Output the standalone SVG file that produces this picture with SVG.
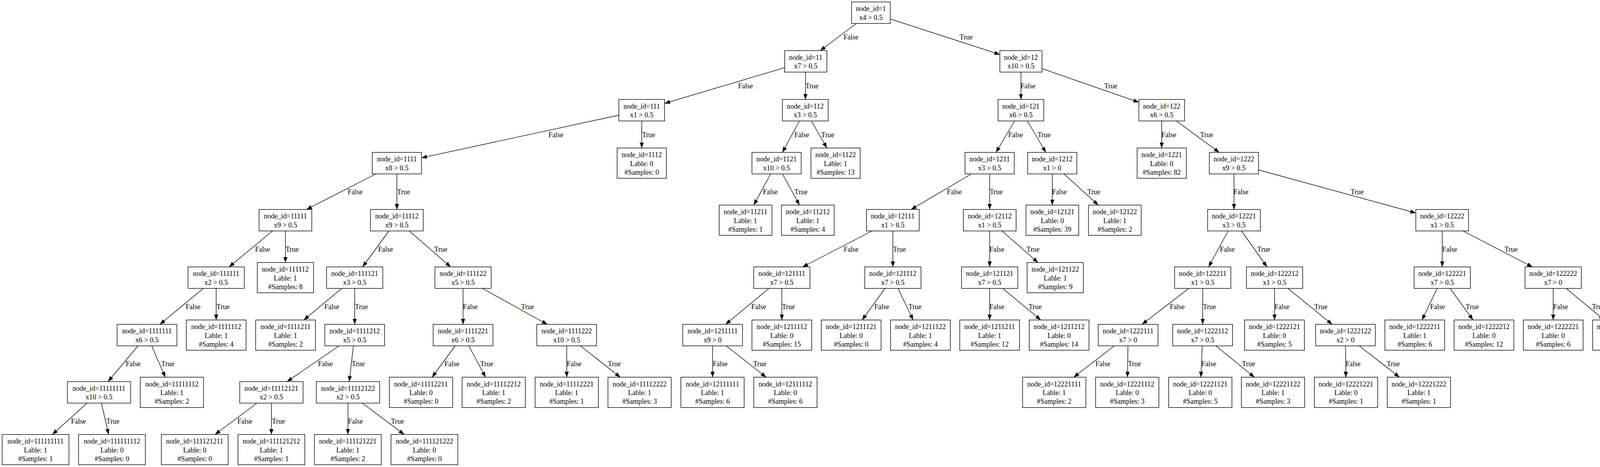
<svg xmlns="http://www.w3.org/2000/svg" width="4236" height="1195" viewBox="0 0 4236 1195">
<style>
.n rect{fill:#fff;stroke:#000;stroke-width:1.4}
text{font-family:"Liberation Serif","Times New Roman",serif;font-size:18px;fill:#000;text-anchor:middle}
.e line{stroke:#000;stroke-width:1.4;marker-end:url(#ah)}
</style>
<defs>
<marker id="ah" markerUnits="userSpaceOnUse" markerWidth="14" markerHeight="11" viewBox="0 0 14 11" refX="14" refY="5.5" orient="auto"><path d="M0,0.2 L14,5.5 L0,10.8 z" fill="#000"/></marker>
</defs>
<rect width="4236" height="1195" fill="#fff"/>
<g id="connectors" class="e">
<line x1="2192.6" y1="60" x2="2099.6" y2="129.5"/>
<line x1="2279.5" y1="48.7" x2="2559.6" y2="139.5"/>
<line x1="2008.7" y1="173.1" x2="1701.3" y2="264.6"/>
<line x1="2062.5" y1="184.5" x2="2061.8" y2="254.5"/>
<line x1="2613.6" y1="184.5" x2="2613.6" y2="254.5"/>
<line x1="2667.6" y1="175.7" x2="2915.5" y2="261.7"/>
<line x1="1584.3" y1="294.7" x2="1079" y2="403.9"/>
<line x1="1642.8" y1="309.5" x2="1642.8" y2="378.75"/>
<line x1="2046.6" y1="309.5" x2="2002.9" y2="390"/>
<line x1="2077.2" y1="309.5" x2="2116.8" y2="378.75"/>
<line x1="2597.3" y1="309.5" x2="2549.8" y2="390"/>
<line x1="2629.9" y1="309.5" x2="2677.4" y2="390"/>
<line x1="2974" y1="309.5" x2="2974" y2="378.75"/>
<line x1="3011.5" y1="309.5" x2="3121.3" y2="390"/>
<line x1="962.3" y1="445" x2="784.5" y2="536"/>
<line x1="1016" y1="445" x2="1016" y2="536"/>
<line x1="1973" y1="445" x2="1929.7" y2="524.75"/>
<line x1="2003.1" y1="445" x2="2046.8" y2="524.75"/>
<line x1="2486.8" y1="445" x2="2332.4" y2="536"/>
<line x1="2533.6" y1="445" x2="2533.6" y2="536"/>
<line x1="2693.8" y1="445" x2="2693.8" y2="524.75"/>
<line x1="2723.9" y1="445" x2="2811.5" y2="524.75"/>
<line x1="3158.9" y1="445" x2="3158.9" y2="536"/>
<line x1="3221.8" y1="434.8" x2="3624.5" y2="545"/>
<line x1="697.6" y1="591" x2="586.6" y2="683"/>
<line x1="730.7" y1="591" x2="730.7" y2="671.75"/>
<line x1="995.8" y1="591" x2="928.2" y2="683"/>
<line x1="1047.7" y1="591" x2="1153.7" y2="683"/>
<line x1="2232.5" y1="591" x2="2054.7" y2="683"/>
<line x1="2285.7" y1="591" x2="2285.7" y2="683"/>
<line x1="2533.6" y1="591" x2="2533.6" y2="683"/>
<line x1="2565.2" y1="591" x2="2657.2" y2="671.75"/>
<line x1="3144" y1="591" x2="3094" y2="683"/>
<line x1="3178.4" y1="591" x2="3243.5" y2="683"/>
<line x1="3692.1" y1="591" x2="3692.1" y2="683"/>
<line x1="3745.2" y1="591" x2="3923" y2="683"/>
<line x1="520.3" y1="738" x2="409.4" y2="830"/>
<line x1="553.4" y1="738" x2="553.4" y2="818.75"/>
<line x1="874.9" y1="738" x2="777.7" y2="818.75"/>
<line x1="908" y1="738" x2="908" y2="830"/>
<line x1="1185.4" y1="738" x2="1185.4" y2="830"/>
<line x1="1235.1" y1="738" x2="1401.1" y2="830"/>
<line x1="1968.4" y1="738" x2="1857.5" y2="830"/>
<line x1="2001.5" y1="738" x2="2001.5" y2="818.75"/>
<line x1="2265.7" y1="738" x2="2207.1" y2="818.75"/>
<line x1="2298.9" y1="738" x2="2337.7" y2="818.75"/>
<line x1="2533.5" y1="738" x2="2533.5" y2="818.75"/>
<line x1="2566.8" y1="738" x2="2664.4" y2="818.75"/>
<line x1="3043.3" y1="738" x2="2923.7" y2="830"/>
<line x1="3079" y1="738" x2="3078.8" y2="830"/>
<line x1="3262.85" y1="738" x2="3262.85" y2="818.75"/>
<line x1="3296.9" y1="738" x2="3410.4" y2="830"/>
<line x1="3679.1" y1="738" x2="3640.4" y2="818.75"/>
<line x1="3712.2" y1="738" x2="3770.9" y2="818.75"/>
<line x1="3976.2" y1="738" x2="3976.2" y2="818.75"/>
<line x1="4009.4" y1="738" x2="4106.9" y2="818.75"/>
<line x1="353.3" y1="885" x2="276.6" y2="976.5"/>
<line x1="388.3" y1="885" x2="423.2" y2="965.25"/>
<line x1="868" y1="885" x2="734.7" y2="976.5"/>
<line x1="904.8" y1="885" x2="894" y2="976.5"/>
<line x1="1165.2" y1="885" x2="1106.2" y2="965.25"/>
<line x1="1200.1" y1="885" x2="1243.1" y2="965.25"/>
<line x1="1450.8" y1="885" x2="1450.8" y2="965.25"/>
<line x1="1485.8" y1="885" x2="1588" y2="965.25"/>
<line x1="1824.2" y1="885" x2="1824.2" y2="965.25"/>
<line x1="1859.3" y1="885" x2="1961.3" y2="965.25"/>
<line x1="2852.5" y1="885" x2="2748.8" y2="965.25"/>
<line x1="2887.6" y1="885" x2="2886.3" y2="965.25"/>
<line x1="3077.7" y1="885" x2="3074.3" y2="965.25"/>
<line x1="3112.6" y1="885" x2="3211.3" y2="965.25"/>
<line x1="3444.5" y1="885" x2="3445.4" y2="965.25"/>
<line x1="3479.7" y1="885" x2="3582.7" y2="965.25"/>
<line x1="223" y1="1031.5" x2="134" y2="1111.75"/>
<line x1="259.7" y1="1031.5" x2="277.9" y2="1111.75"/>
<line x1="657.9" y1="1031.5" x2="550.5" y2="1111.75"/>
<line x1="694.75" y1="1031.5" x2="694.75" y2="1111.75"/>
<line x1="890.65" y1="1031.5" x2="890.65" y2="1111.75"/>
<line x1="927.5" y1="1031.5" x2="1034.7" y2="1111.75"/>
<g id="edge-labels">
<text x="2178.5" y="101">False</text><text x="2473.3" y="101">True</text>
<text x="1908.5" y="226.4">False</text><text x="2078.6" y="226.4">True</text>
<text x="2631.8" y="226.4">False</text><text x="2843.5" y="226.4">True</text>
<text x="1423" y="351">False</text><text x="1660.4" y="351">True</text>
<text x="2052.6" y="351">False</text><text x="2119" y="351">True</text>
<text x="2600" y="351">False</text><text x="2673" y="351">True</text>
<text x="2992.2" y="351">False</text><text x="3089" y="351">True</text>
<text x="909" y="497.4">False</text><text x="1033" y="497.4">True</text>
<text x="1972" y="497.4">False</text><text x="2050.5" y="497.4">True</text>
<text x="2443.2" y="497.4">False</text><text x="2550.4" y="497.4">True</text>
<text x="2712.3" y="497.4">False</text><text x="2800.2" y="497.4">True</text>
<text x="3177" y="497.4">False</text><text x="3474.5" y="497.4">True</text>
<text x="672" y="644">False</text><text x="748" y="644">True</text>
<text x="987" y="644">False</text><text x="1128.3" y="644">True</text>
<text x="2178.8" y="644">False</text><text x="2302.6" y="644">True</text>
<text x="2552" y="644">False</text><text x="2644.7" y="644">True</text>
<text x="3142" y="644">False</text><text x="3235.2" y="644">True</text>
<text x="3711.2" y="644">False</text><text x="3868.4" y="644">True</text>
<text x="494.3" y="791">False</text><text x="571" y="791">True</text>
<text x="849.2" y="791">False</text><text x="925.3" y="791">True</text>
<text x="1204" y="791">False</text><text x="1350.7" y="791">True</text>
<text x="1942.3" y="791">False</text><text x="2018.4" y="791">True</text>
<text x="2257.3" y="791">False</text><text x="2342.4" y="791">True</text>
<text x="2552" y="791">False</text><text x="2650" y="791">True</text>
<text x="3013.8" y="791">False</text><text x="3096.3" y="791">True</text>
<text x="3281.8" y="791">False</text><text x="3381.5" y="791">True</text>
<text x="3680" y="791">False</text><text x="3769" y="791">True</text>
<text x="3995.1" y="791">False</text><text x="4092.2" y="791">True</text>
<text x="340.8" y="937.4">False</text><text x="429.7" y="937.4">True</text>
<text x="833" y="937.4">False</text><text x="917.2" y="937.4">True</text>
<text x="1156.7" y="937.4">False</text><text x="1246" y="937.4">True</text>
<text x="1469.7" y="937.4">False</text><text x="1572.8" y="937.4">True</text>
<text x="1843.6" y="937.4">False</text><text x="1945" y="937.4">True</text>
<text x="2823.5" y="937.4">False</text><text x="2904.3" y="937.4">True</text>
<text x="3094.6" y="937.4">False</text><text x="3196.3" y="937.4">True</text>
<text x="3464" y="937.4">False</text><text x="3566.8" y="937.4">True</text>
<text x="200.8" y="1084">False</text><text x="289" y="1084">True</text>
<text x="626.8" y="1084">False</text><text x="713" y="1084">True</text>
<text x="910" y="1084">False</text><text x="1017.6" y="1084">True</text>
</g>
</g>
<g id="nodes">
<g id="n1" class="n"><rect x="2180" y="5" width="99" height="55"/><text x="2229.5" y="28.4">node_id=1</text><text x="2229.5" y="50.6">x4 &gt; 0.5</text></g>
<g id="n11" class="n"><rect x="2008.7" y="129.5" width="108" height="55"/><text x="2062.7" y="152.9">node_id=11</text><text x="2062.7" y="175.1">x7 &gt; 0.5</text></g>
<g id="n12" class="n"><rect x="2559.6" y="129.5" width="108" height="55"/><text x="2613.6" y="152.9">node_id=12</text><text x="2613.6" y="175.1">x10 &gt; 0.5</text></g>
<g id="n111" class="n"><rect x="1584.3" y="254.5" width="117" height="55"/><text x="1642.8" y="277.9">node_id=111</text><text x="1642.8" y="300.1">x1 &gt; 0.5</text></g>
<g id="n112" class="n"><rect x="2003" y="254.5" width="117" height="55"/><text x="2061.5" y="277.9">node_id=112</text><text x="2061.5" y="300.1">x3 &gt; 0.5</text></g>
<g id="n121" class="n"><rect x="2555.1" y="254.5" width="117" height="55"/><text x="2613.6" y="277.9">node_id=121</text><text x="2613.6" y="300.1">x6 &gt; 0.5</text></g>
<g id="n122" class="n"><rect x="2915.5" y="254.5" width="117" height="55"/><text x="2974" y="277.9">node_id=122</text><text x="2974" y="300.1">x6 &gt; 0.5</text></g>
<g id="n1111" class="n"><rect x="953" y="390" width="126" height="55"/><text x="1016" y="413.4">node_id=1111</text><text x="1016" y="435.6">x8 &gt; 0.5</text></g>
<g id="n1112" class="n"><rect x="1579.8" y="378.75" width="126" height="77.5"/><text x="1642.8" y="402.3">node_id=1112</text><text x="1642.8" y="424.5">Lable: 0</text><text x="1642.8" y="446.7">#Samples: 0</text></g>
<g id="n1121" class="n"><rect x="1925" y="390" width="126" height="55"/><text x="1988" y="413.4">node_id=1121</text><text x="1988" y="435.6">x10 &gt; 0.5</text></g>
<g id="n1122" class="n"><rect x="2076" y="378.75" width="126" height="77.5"/><text x="2139" y="402.3">node_id=1122</text><text x="2139" y="424.5">Lable: 1</text><text x="2139" y="446.7">#Samples: 13</text></g>
<g id="n1211" class="n"><rect x="2470.5" y="390" width="126" height="55"/><text x="2533.5" y="413.4">node_id=1211</text><text x="2533.5" y="435.6">x3 &gt; 0.5</text></g>
<g id="n1212" class="n"><rect x="2630.7" y="390" width="126" height="55"/><text x="2693.7" y="413.4">node_id=1212</text><text x="2693.7" y="435.6">x1 &gt; 0</text></g>
<g id="n1221" class="n"><rect x="2911" y="378.75" width="126" height="77.5"/><text x="2974" y="402.3">node_id=1221</text><text x="2974" y="424.5">Lable: 0</text><text x="2974" y="446.7">#Samples: 82</text></g>
<g id="n1222" class="n"><rect x="3095.8" y="390" width="126" height="55"/><text x="3158.8" y="413.4">node_id=1222</text><text x="3158.8" y="435.6">x9 &gt; 0.5</text></g>
<g id="n11111" class="n"><rect x="663.3" y="536" width="135" height="55"/><text x="730.8" y="559.4">node_id=11111</text><text x="730.8" y="581.6">x9 &gt; 0.5</text></g>
<g id="n11112" class="n"><rect x="948.5" y="536" width="135" height="55"/><text x="1016" y="559.4">node_id=11112</text><text x="1016" y="581.6">x9 &gt; 0.5</text></g>
<g id="n11211" class="n"><rect x="1841.1" y="524.75" width="135" height="77.5"/><text x="1908.6" y="548.3">node_id=11211</text><text x="1908.6" y="570.5">Lable: 1</text><text x="1908.6" y="592.7">#Samples: 1</text></g>
<g id="n11212" class="n"><rect x="2000.5" y="524.75" width="135" height="77.5"/><text x="2068" y="548.3">node_id=11212</text><text x="2068" y="570.5">Lable: 1</text><text x="2068" y="592.7">#Samples: 4</text></g>
<g id="n12111" class="n"><rect x="2218.2" y="536" width="135" height="55"/><text x="2285.7" y="559.4">node_id=12111</text><text x="2285.7" y="581.6">x1 &gt; 0.5</text></g>
<g id="n12112" class="n"><rect x="2466.3" y="536" width="135" height="55"/><text x="2533.8" y="559.4">node_id=12112</text><text x="2533.8" y="581.6">x1 &gt; 0.5</text></g>
<g id="n12121" class="n"><rect x="2626.5" y="524.75" width="135" height="77.5"/><text x="2694" y="548.3">node_id=12121</text><text x="2694" y="570.5">Lable: 0</text><text x="2694" y="592.7">#Samples: 39</text></g>
<g id="n12122" class="n"><rect x="2786.5" y="524.75" width="135" height="77.5"/><text x="2854" y="548.3">node_id=12122</text><text x="2854" y="570.5">Lable: 1</text><text x="2854" y="592.7">#Samples: 2</text></g>
<g id="n12221" class="n"><rect x="3091.5" y="536" width="135" height="55"/><text x="3159" y="559.4">node_id=12221</text><text x="3159" y="581.6">x3 &gt; 0.5</text></g>
<g id="n12222" class="n"><rect x="3624.5" y="536" width="135" height="55"/><text x="3692" y="559.4">node_id=12222</text><text x="3692" y="581.6">x1 &gt; 0.5</text></g>
<g id="n111111" class="n"><rect x="481.4" y="683" width="144" height="55"/><text x="553.4" y="706.4">node_id=111111</text><text x="553.4" y="728.6">x2 &gt; 0.5</text></g>
<g id="n111112" class="n"><rect x="658.6" y="671.75" width="144" height="77.5"/><text x="730.6" y="695.3">node_id=111112</text><text x="730.6" y="717.5">Lable: 1</text><text x="730.6" y="739.7">#Samples: 8</text></g>
<g id="n111121" class="n"><rect x="836" y="683" width="144" height="55"/><text x="908" y="706.4">node_id=111121</text><text x="908" y="728.6">x3 &gt; 0.5</text></g>
<g id="n111122" class="n"><rect x="1113.4" y="683" width="144" height="55"/><text x="1185.4" y="706.4">node_id=111122</text><text x="1185.4" y="728.6">x5 &gt; 0.5</text></g>
<g id="n121111" class="n"><rect x="1929.5" y="683" width="144" height="55"/><text x="2001.5" y="706.4">node_id=121111</text><text x="2001.5" y="728.6">x7 &gt; 0.5</text></g>
<g id="n121112" class="n"><rect x="2213.7" y="683" width="144" height="55"/><text x="2285.7" y="706.4">node_id=121112</text><text x="2285.7" y="728.6">x7 &gt; 0.5</text></g>
<g id="n121121" class="n"><rect x="2461.5" y="683" width="144" height="55"/><text x="2533.5" y="706.4">node_id=121121</text><text x="2533.5" y="728.6">x7 &gt; 0.5</text></g>
<g id="n121122" class="n"><rect x="2629.4" y="671.75" width="144" height="77.5"/><text x="2701.4" y="695.3">node_id=121122</text><text x="2701.4" y="717.5">Lable: 1</text><text x="2701.4" y="739.7">#Samples: 9</text></g>
<g id="n122211" class="n"><rect x="3007" y="683" width="144" height="55"/><text x="3079" y="706.4">node_id=122211</text><text x="3079" y="728.6">x1 &gt; 0.5</text></g>
<g id="n122212" class="n"><rect x="3190.9" y="683" width="144" height="55"/><text x="3262.9" y="706.4">node_id=122212</text><text x="3262.9" y="728.6">x1 &gt; 0.5</text></g>
<g id="n122221" class="n"><rect x="3620.2" y="683" width="144" height="55"/><text x="3692.2" y="706.4">node_id=122221</text><text x="3692.2" y="728.6">x7 &gt; 0.5</text></g>
<g id="n122222" class="n"><rect x="3904.2" y="683" width="144" height="55"/><text x="3976.2" y="706.4">node_id=122222</text><text x="3976.2" y="728.6">x7 &gt; 0</text></g>
<g id="n1111111" class="n"><rect x="299.8" y="830" width="153" height="55"/><text x="376.3" y="853.4">node_id=1111111</text><text x="376.3" y="875.6">x6 &gt; 0.5</text></g>
<g id="n1111112" class="n"><rect x="476.9" y="818.75" width="153" height="77.5"/><text x="553.4" y="842.3">node_id=1111112</text><text x="553.4" y="864.5">Lable: 1</text><text x="553.4" y="886.7">#Samples: 4</text></g>
<g id="n1111211" class="n"><rect x="654.5" y="818.75" width="153" height="77.5"/><text x="731" y="842.3">node_id=1111211</text><text x="731" y="864.5">Lable: 1</text><text x="731" y="886.7">#Samples: 2</text></g>
<g id="n1111212" class="n"><rect x="831.5" y="830" width="153" height="55"/><text x="908" y="853.4">node_id=1111212</text><text x="908" y="875.6">x5 &gt; 0.5</text></g>
<g id="n1111221" class="n"><rect x="1108.9" y="830" width="153" height="55"/><text x="1185.4" y="853.4">node_id=1111221</text><text x="1185.4" y="875.6">x6 &gt; 0.5</text></g>
<g id="n1111222" class="n"><rect x="1374.3" y="830" width="153" height="55"/><text x="1450.8" y="853.4">node_id=1111222</text><text x="1450.8" y="875.6">x10 &gt; 0.5</text></g>
<g id="n1211111" class="n"><rect x="1747.8" y="830" width="153" height="55"/><text x="1824.3" y="853.4">node_id=1211111</text><text x="1824.3" y="875.6">x9 &gt; 0</text></g>
<g id="n1211112" class="n"><rect x="1925" y="818.75" width="153" height="77.5"/><text x="2001.5" y="842.3">node_id=1211112</text><text x="2001.5" y="864.5">Lable: 0</text><text x="2001.5" y="886.7">#Samples: 15</text></g>
<g id="n1211121" class="n"><rect x="2102.5" y="818.75" width="153" height="77.5"/><text x="2179" y="842.3">node_id=1211121</text><text x="2179" y="864.5">Lable: 0</text><text x="2179" y="886.7">#Samples: 0</text></g>
<g id="n1211122" class="n"><rect x="2279.8" y="818.75" width="153" height="77.5"/><text x="2356.3" y="842.3">node_id=1211122</text><text x="2356.3" y="864.5">Lable: 1</text><text x="2356.3" y="886.7">#Samples: 4</text></g>
<g id="n1211211" class="n"><rect x="2457" y="818.75" width="153" height="77.5"/><text x="2533.5" y="842.3">node_id=1211211</text><text x="2533.5" y="864.5">Lable: 1</text><text x="2533.5" y="886.7">#Samples: 12</text></g>
<g id="n1211212" class="n"><rect x="2634.8" y="818.75" width="153" height="77.5"/><text x="2711.3" y="842.3">node_id=1211212</text><text x="2711.3" y="864.5">Lable: 0</text><text x="2711.3" y="886.7">#Samples: 14</text></g>
<g id="n1222111" class="n"><rect x="2811.5" y="830" width="153" height="55"/><text x="2888" y="853.4">node_id=1222111</text><text x="2888" y="875.6">x7 &gt; 0</text></g>
<g id="n1222112" class="n"><rect x="3002.3" y="830" width="153" height="55"/><text x="3078.8" y="853.4">node_id=1222112</text><text x="3078.8" y="875.6">x7 &gt; 0.5</text></g>
<g id="n1222121" class="n"><rect x="3186.3" y="818.75" width="153" height="77.5"/><text x="3262.8" y="842.3">node_id=1222121</text><text x="3262.8" y="864.5">Lable: 0</text><text x="3262.8" y="886.7">#Samples: 5</text></g>
<g id="n1222122" class="n"><rect x="3367.9" y="830" width="153" height="55"/><text x="3444.4" y="853.4">node_id=1222122</text><text x="3444.4" y="875.6">x2 &gt; 0</text></g>
<g id="n1222211" class="n"><rect x="3545.4" y="818.75" width="153" height="77.5"/><text x="3621.9" y="842.3">node_id=1222211</text><text x="3621.9" y="864.5">Lable: 1</text><text x="3621.9" y="886.7">#Samples: 6</text></g>
<g id="n1222212" class="n"><rect x="3722.5" y="818.75" width="153" height="77.5"/><text x="3799" y="842.3">node_id=1222212</text><text x="3799" y="864.5">Lable: 0</text><text x="3799" y="886.7">#Samples: 12</text></g>
<g id="n1222221" class="n"><rect x="3899.7" y="818.75" width="153" height="77.5"/><text x="3976.2" y="842.3">node_id=1222221</text><text x="3976.2" y="864.5">Lable: 0</text><text x="3976.2" y="886.7">#Samples: 6</text></g>
<g id="n1222222" class="n"><rect x="4077.2" y="818.75" width="153" height="77.5"/><text x="4153.7" y="842.3">node_id=1222222</text><text x="4153.7" y="864.5">Lable: 1</text><text x="4153.7" y="886.7">#Samples: 7</text></g>
<g id="n11111111" class="n"><rect x="172.5" y="976.5" width="162" height="55"/><text x="253.5" y="999.9">node_id=11111111</text><text x="253.5" y="1022.1">x10 &gt; 0.5</text></g>
<g id="n11111112" class="n"><rect x="359" y="965.25" width="162" height="77.5"/><text x="440" y="988.8">node_id=11111112</text><text x="440" y="1011">Lable: 1</text><text x="440" y="1033.2">#Samples: 2</text></g>
<g id="n11112121" class="n"><rect x="613.7" y="976.5" width="162" height="55"/><text x="694.7" y="999.9">node_id=11112121</text><text x="694.7" y="1022.1">x2 &gt; 0.5</text></g>
<g id="n11112122" class="n"><rect x="809.8" y="976.5" width="162" height="55"/><text x="890.8" y="999.9">node_id=11112122</text><text x="890.8" y="1022.1">x2 &gt; 0.5</text></g>
<g id="n11112211" class="n"><rect x="996.7" y="965.25" width="162" height="77.5"/><text x="1077.7" y="988.8">node_id=11112211</text><text x="1077.7" y="1011">Lable: 0</text><text x="1077.7" y="1033.2">#Samples: 0</text></g>
<g id="n11112212" class="n"><rect x="1182.9" y="965.25" width="162" height="77.5"/><text x="1263.9" y="988.8">node_id=11112212</text><text x="1263.9" y="1011">Lable: 1</text><text x="1263.9" y="1033.2">#Samples: 2</text></g>
<g id="n11112221" class="n"><rect x="1369.8" y="965.25" width="162" height="77.5"/><text x="1450.8" y="988.8">node_id=11112221</text><text x="1450.8" y="1011">Lable: 1</text><text x="1450.8" y="1033.2">#Samples: 1</text></g>
<g id="n11112222" class="n"><rect x="1556.4" y="965.25" width="162" height="77.5"/><text x="1637.4" y="988.8">node_id=11112222</text><text x="1637.4" y="1011">Lable: 1</text><text x="1637.4" y="1033.2">#Samples: 3</text></g>
<g id="n12111111" class="n"><rect x="1743" y="965.25" width="162" height="77.5"/><text x="1824" y="988.8">node_id=12111111</text><text x="1824" y="1011">Lable: 1</text><text x="1824" y="1033.2">#Samples: 6</text></g>
<g id="n12111112" class="n"><rect x="1929.6" y="965.25" width="162" height="77.5"/><text x="2010.6" y="988.8">node_id=12111112</text><text x="2010.6" y="1011">Lable: 0</text><text x="2010.6" y="1033.2">#Samples: 6</text></g>
<g id="n12221111" class="n"><rect x="2617.8" y="965.25" width="162" height="77.5"/><text x="2698.8" y="988.8">node_id=12221111</text><text x="2698.8" y="1011">Lable: 1</text><text x="2698.8" y="1033.2">#Samples: 2</text></g>
<g id="n12221112" class="n"><rect x="2804.7" y="965.25" width="162" height="77.5"/><text x="2885.7" y="988.8">node_id=12221112</text><text x="2885.7" y="1011">Lable: 0</text><text x="2885.7" y="1033.2">#Samples: 3</text></g>
<g id="n12221121" class="n"><rect x="2991.7" y="965.25" width="162" height="77.5"/><text x="3072.7" y="988.8">node_id=12221121</text><text x="3072.7" y="1011">Lable: 0</text><text x="3072.7" y="1033.2">#Samples: 5</text></g>
<g id="n12221122" class="n"><rect x="3177.9" y="965.25" width="162" height="77.5"/><text x="3258.9" y="988.8">node_id=12221122</text><text x="3258.9" y="1011">Lable: 1</text><text x="3258.9" y="1033.2">#Samples: 3</text></g>
<g id="n12221221" class="n"><rect x="3364.8" y="965.25" width="162" height="77.5"/><text x="3445.8" y="988.8">node_id=12221221</text><text x="3445.8" y="1011">Lable: 0</text><text x="3445.8" y="1033.2">#Samples: 1</text></g>
<g id="n12221222" class="n"><rect x="3551.4" y="965.25" width="162" height="77.5"/><text x="3632.4" y="988.8">node_id=12221222</text><text x="3632.4" y="1011">Lable: 1</text><text x="3632.4" y="1033.2">#Samples: 1</text></g>
<g id="n111111111" class="n"><rect x="5.5" y="1111.75" width="171" height="77.5"/><text x="91" y="1135.3">node_id=111111111</text><text x="91" y="1157.5">Lable: 1</text><text x="91" y="1179.7">#Samples: 1</text></g>
<g id="n111111112" class="n"><rect x="201.2" y="1111.75" width="171" height="77.5"/><text x="286.7" y="1135.3">node_id=111111112</text><text x="286.7" y="1157.5">Lable: 0</text><text x="286.7" y="1179.7">#Samples: 0</text></g>
<g id="n111121211" class="n"><rect x="413.1" y="1111.75" width="171" height="77.5"/><text x="498.6" y="1135.3">node_id=111121211</text><text x="498.6" y="1157.5">Lable: 0</text><text x="498.6" y="1179.7">#Samples: 0</text></g>
<g id="n111121212" class="n"><rect x="609.3" y="1111.75" width="171" height="77.5"/><text x="694.8" y="1135.3">node_id=111121212</text><text x="694.8" y="1157.5">Lable: 1</text><text x="694.8" y="1179.7">#Samples: 1</text></g>
<g id="n111121221" class="n"><rect x="805" y="1111.75" width="171" height="77.5"/><text x="890.5" y="1135.3">node_id=111121221</text><text x="890.5" y="1157.5">Lable: 1</text><text x="890.5" y="1179.7">#Samples: 2</text></g>
<g id="n111121222" class="n"><rect x="1001" y="1111.75" width="171" height="77.5"/><text x="1086.5" y="1135.3">node_id=111121222</text><text x="1086.5" y="1157.5">Lable: 0</text><text x="1086.5" y="1179.7">#Samples: 0</text></g>
</g>
</svg>
